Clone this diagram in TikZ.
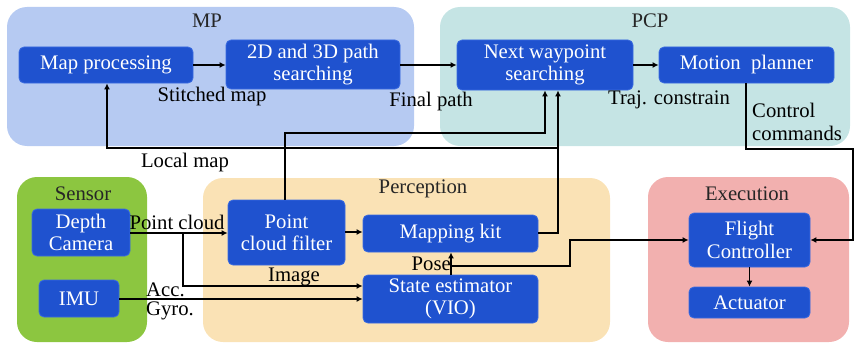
\documentclass[tikz,border=0pt]{standalone}
\usepackage{fontspec}
\setmainfont{LiberationSerif}[Extension=.ttf, UprightFont=*-Regular, BoldFont=*-Bold, ItalicFont=*-Italic, BoldItalicFont=*-BoldItalic]
\usetikzlibrary{arrows.meta}
\definecolor{boxblue}{HTML}{1F52CF}
\definecolor{boxedge}{HTML}{3A6BE0}
\definecolor{mpfill}{HTML}{B6CAF2}
\definecolor{pcpfill}{HTML}{C5E4E4}
\definecolor{sensfill}{HTML}{8CC640}
\definecolor{percfill}{HTML}{FAE2B5}
\definecolor{execfill}{HTML}{F2B0AF}
\tikzset{
  group/.style={rounded corners=20pt, draw=none},
  block/.style={draw=boxedge, line width=0.8pt, fill=boxblue, rounded corners=5pt,
    text=white, align=center, inner sep=0pt, font=\rmfamily\fontsize{20.7}{22.5}\selectfont},
  lbl/.style={inner sep=0pt, font=\rmfamily\fontsize{20.7}{23}\selectfont, text=black},
  title/.style={inner sep=0pt, font=\rmfamily\fontsize{20.7}{23}\selectfont, text=black!85},
  link/.style={draw=black, line width=1.8pt},
  arr/.style={link, -{Latex[length=6pt,width=6pt]}},
}
\begin{document}
\begin{tikzpicture}[x=1pt,y=-1pt]
\useasboundingbox (0,0) rectangle (856,345);

% group panels
\fill[group, mpfill]   (7,7)     rectangle (414,146);
\fill[group, pcpfill]  (440,7)   rectangle (850,146);
\fill[group, sensfill] (17,177)  rectangle (147,342);
\fill[group, percfill] (203,178) rectangle (610,342);
\fill[group, execfill] (648,177) rectangle (849,342);

\node[title] (tmp)   at (207,21)  {MP};
\node[title] (tpcp)  at (650,21)  {PCP};
\node[title] (tsens) at (83,194)  {Sensor};
\node[title] (tperc) at (423,189) {Perception};
\node[title] (texec) at (747,194) {Execution};

% processing blocks
\node[block, minimum width=174pt, minimum height=36pt] (mapproc)  at (106,65)    {Map processing};
\node[block, minimum width=174pt, minimum height=49pt] (path)     at (313,64.5)  {2D and 3D path\\searching};
\node[block, minimum width=176pt, minimum height=50pt] (nextwp)   at (545,65)    {Next waypoint\\searching};
\node[block, minimum width=175pt, minimum height=36pt] (motion)   at (746.5,65)  {Motion\ \ planner};
\node[block, minimum width=98pt,  minimum height=47pt] (depth)    at (81,232.5)  {Depth\\Camera};
\node[block, minimum width=80pt,  minimum height=37pt] (imu)      at (79,298.5)  {IMU};
\node[block, minimum width=117pt, minimum height=65pt] (pcf)      at (286.5,232.5) {Point\\cloud filter};
\node[block, minimum width=175pt, minimum height=37pt] (mapkit)   at (450.5,233.5) {Mapping kit};
\node[block, minimum width=175pt, minimum height=48pt] (state)    at (450.5,299) {State estimator\\(VIO)};
\node[block, minimum width=121pt, minimum height=54pt] (flight)   at (749.5,240) {Flight\\Controller};
\node[block, minimum width=121pt, minimum height=31pt] (act)      at (749.5,302.5) {Actuator};

% routing points
\coordinate (cc1) at (746,149);
\coordinate (cc2) at (853,149);
\coordinate (cc3) at (853,240);
\coordinate (mk1) at (558,233);
\coordinate (mk2) at (558,148);
\coordinate (lm1) at (107,148);
\coordinate (pf1) at (285,133);
\coordinate (pf2) at (545,133);
\coordinate (im1) at (183,233);
\coordinate (im2) at (183,286);
\coordinate (ps1) at (451,266);
\coordinate (ps2) at (570,266);
\coordinate (ps3) at (570,240);

% connectors
\draw[arr] (mapproc.east) -- (mapproc.east -| path.west);
\draw[arr] (path.east |- 0,65) -- (nextwp.west |- 0,65);
\draw[arr] (nextwp.east |- 0,65) -- (motion.west |- 0,65);
\draw[arr] (motion.south -| cc1) -- (cc1) -- (cc2) -- (cc3) -- (flight.east |- cc3);
\draw[arr] (mapkit.east |- mk1) -- (mk1) -- (mk1 |- nextwp.south);
\draw[arr] (mk2) -- (lm1) -- (lm1 |- mapproc.south);
\draw[arr] (pcf.north -| pf1) -- (pf1) -- (pf2) -- (pf2 |- nextwp.south);
\draw[arr] (depth.east |- im1) -- (pcf.west |- im1);
\draw[arr] (im1) -- (im2) -- (state.west |- im2);
\draw[arr] (imu.east |- 0,299) -- (state.west |- 0,299);
\draw[arr] (state.north -| ps1) -- (mapkit.south -| ps1);
\draw[arr] (ps1) -- (ps2) -- (ps3) -- (flight.west |- ps3);
\draw[arr] (flight.south -| act.north) -- (act.north);
\draw[arr] (pcf.east |- 0,232) -- (mapkit.west |- 0,232);

% connector labels
\node[lbl] (lstitch) at (212,97)  {Stitched map};
\node[lbl] (lfinal)  at (431,102) {Final path};
\node[lbl] (ltraj)   at (669,100) {Traj. constrain};
\node[lbl, anchor=west, align=left] (lctrl) at (752,122) {Control\\commands};
\node[lbl] (llocal)  at (185,163) {Local map};
\node[lbl] (lpoint)  at (177,222) {Point cloud};
\node[lbl] (limage)  at (294,277) {Image};
\node[lbl, anchor=west] (lacc)  at (146,290) {Acc.};
\node[lbl, anchor=west] (lgyro) at (146,311) {Gyro.};
\node[lbl, anchor=east] (lpose) at (451,264) {Pose};
\end{tikzpicture}
\end{document}
